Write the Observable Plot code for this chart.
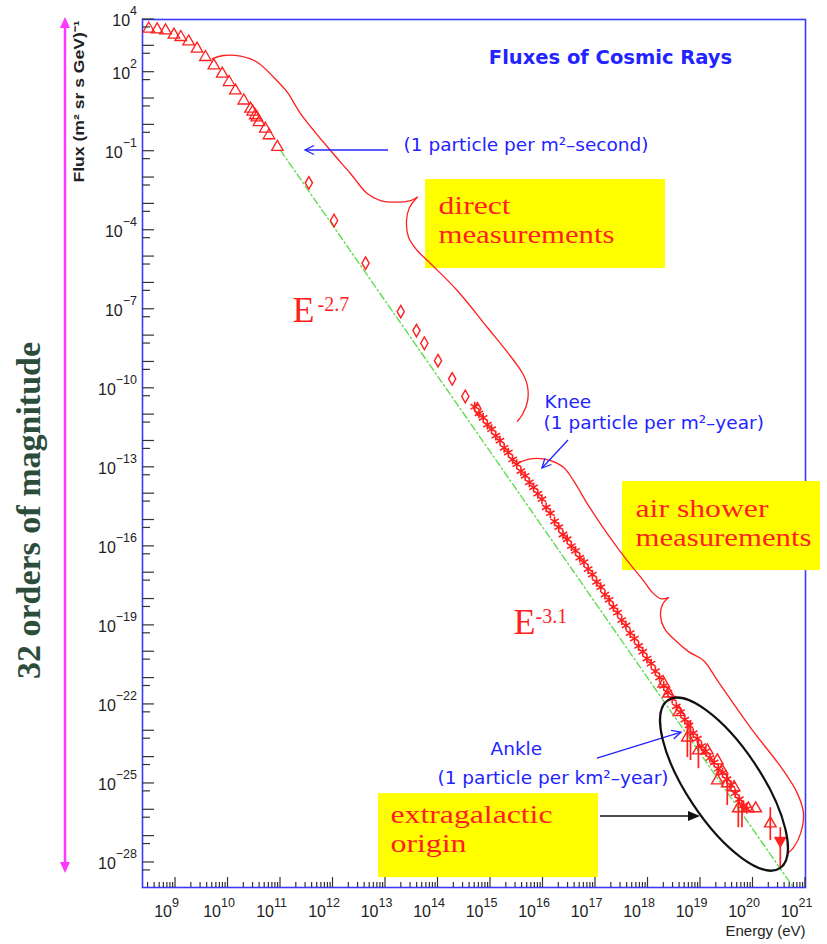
<!DOCTYPE html>
<html><head><meta charset="utf-8">
<script src="https://cdn.jsdelivr.net/npm/d3@7"></script>
<script src="https://cdn.jsdelivr.net/npm/@observablehq/plot@0.6"></script>
<style>html,body{margin:0;padding:0;background:#fff;} #chart svg{display:block;}</style>
</head><body><div id="chart"></div>
<script>
const p = (v) => 10 ** v;

// ---------- data: log10 energy (eV) and log10 flux ----------
const directLogE = [8.49, 8.65, 8.81, 8.97, 9.10, 9.25, 9.41, 9.57, 9.73, 9.89, 10.02, 10.14, 10.30, 10.43, 10.47, 10.52, 10.55, 10.59, 10.71, 10.78, 10.94];
const directLogF = [3.65, 3.62, 3.58, 3.42, 3.33, 3.16, 2.89, 2.57, 2.25, 1.94, 1.62, 1.30, 0.92, 0.61, 0.50, 0.36, 0.28, 0.10, -0.15, -0.40, -0.84];

const balloonLogE = [11.54, 12.02, 12.62, 13.29, 13.59, 13.74, 14.00, 14.27, 14.52, 14.75];
const balloonLogF = [-2.20, -3.63, -5.25, -7.09, -7.81, -8.29, -8.95, -9.64, -10.31, -10.78];

const showerLogE = [14.70, 14.78, 14.86, 14.94, 15.02, 15.10, 15.18, 15.26, 15.34, 15.42,
  15.50, 15.58, 15.66, 15.74, 15.82, 15.90, 15.98, 16.06, 16.14, 16.22,
  16.30, 16.38, 16.46, 16.54, 16.62, 16.70, 16.78, 16.86, 16.94, 17.02,
  17.10, 17.18, 17.26, 17.34, 17.42, 17.50, 17.58, 17.66, 17.74, 17.82,
  17.90, 17.98, 18.06, 18.14, 18.22, 18.30, 18.38, 18.46, 18.54, 18.62,
  18.70, 18.78, 18.86, 18.94, 19.02, 19.10, 19.18, 19.26, 19.34, 19.42,
  19.50, 19.58, 19.66, 19.74, 19.82, 19.88];
const showerLogF = [-10.70, -10.95, -11.12, -11.38, -11.55, -11.80, -11.99, -12.26, -12.44, -12.70,
  -12.88, -13.14, -13.32, -13.57, -13.76, -14.00, -14.21, -14.52, -14.74, -15.05,
  -15.27, -15.55, -15.73, -15.99, -16.17, -16.43, -16.60, -16.86, -17.07, -17.35,
  -17.55, -17.83, -18.03, -18.30, -18.52, -18.80, -19.00, -19.29, -19.50, -19.78,
  -20.00, -20.26, -20.45, -20.74, -20.98, -21.30, -21.55, -21.78, -22.07, -22.29,
  -22.58, -22.80, -23.09, -23.30, -23.58, -23.78, -24.03, -24.20, -24.44, -24.60,
  -24.84, -25.06, -25.37, -25.60, -25.83, -25.97];

const tailLogE = [18.30, 18.39, 18.59, 18.75, 18.96, 19.13, 19.32, 19.32, 19.41, 19.51, 19.64, 19.72, 19.91, 20.05, 20.33];
const tailLogF = [-21.21, -21.59, -22.30, -23.26, -23.75, -23.75, -24.13, -24.89, -24.51, -25.00, -25.15, -25.95, -25.95, -25.95, -26.52];

const errLogE  = [18.75, 18.81, 18.96, 19.51, 19.72, 19.79, 20.33, 20.52];
const errLogLo = [-24.02, -24.13, -24.44, -25.84, -26.68, -26.68, -27.17, -28.20];
const errLogHi = [-22.61, -22.61, -23.37, -24.63, -25.54, -25.65, -25.92, -26.68];

const limitLogE = [20.52];
const limitLogF = [-27.17];

// E^-2.7 reference line (end points)
const refLogE = [11.0, 20.77];
const refLogF = [-0.97, -28.95];

// ---------- axes ----------
const xTickExps = d3.range(9, 22);
const xMinorMult = [2, 3, 4, 5, 6, 7, 8, 9];
const yTickExps = d3.range(-29, 5);
const yLabelExps = [4, 2, -1, -4, -7, -10, -13, -16, -19, -22, -25, -28];

// ---------- annotations (log10 E, log10 F) ----------
const title = {text: "Fluxes of Cosmic Rays", at: [17.286, 2.557]};
const blueNotes = [
  {text: "(1 particle per m\u00b2\u2013second)", at: [13.343, -0.784]},
  {text: "Knee", at: [16.029, -10.541]},
  {text: "(1 particle per m\u00b2\u2013year)", at: [16.010, -11.338]},
  {text: "Ankle", at: [15.0, -23.677]},
  {text: "(1 particle per km\u00b2\u2013year)", at: [13.990, -24.815]}
];
const boxes = [
  {x: [13.762, 18.333], y: [-5.453, -2.074]},
  {x: [17.514, 21.286], y: [-16.919, -13.540]},
  {x: [12.867, 17.057], y: [-28.574, -25.385]}
];
const boxLines = [
  {text: "direct", at: [14.010, -3.384], span: 72},
  {text: "measurements", at: [14.010, -4.485], span: 176},
  {text: "air shower", at: [17.762, -14.888], span: 133},
  {text: "measurements", at: [17.762, -15.989], span: 176},
  {text: "extragalactic", at: [13.095, -26.486], span: 162},
  {text: "origin", at: [13.095, -27.587], span: 76}
];
const slopeBase = [{text: "E", at: [11.229, -7.466]}, {text: "E", at: [15.438, -19.311]}];
const slopeExp = [{text: "-2.7", at: [11.705, -7.048]}, {text: "-3.1", at: [15.857, -18.893]}];
const yTitle = {text: "Flux (m\u00b2 sr s GeV)\u207b\u00b9", span: 162};

const blueArrows = [
  {from: [13.057, -0.973], to: [11.476, -0.973]},
  {from: [16.486, -11.983], to: [15.990, -13.046]},
  {from: [17.038, -24.056], to: [18.638, -23.069]}
];
const blackArrows = [{from: [17.095, -26.258], to: [19.0, -26.258]}];
const rangeArrow = {top: 4.08, bottom: -28.42};
const ellipseAxis = [[18.390, -21.854], [20.524, -28.233]];

const braces = [
  {id: "1a", pts: [[9.699,2.508],[9.914,2.633],[10.238,2.607],[10.556,2.379],[10.867,1.810],[11.128,1.240],[11.381,0.431],[11.952,-0.973],[12.333,-1.846],[12.651,-2.605],[12.905,-2.872],[13.223,-2.936],[13.476,-2.872],[13.604,-2.746]]},
  {id: "1b", pts: [[13.604,-2.746],[13.457,-3.137],[13.400,-3.631],[13.438,-4.265],[13.604,-4.770],[13.857,-5.264],[14.366,-6.289],[14.937,-7.682],[15.381,-8.783],[15.610,-9.429],[15.705,-9.923],[15.705,-10.492],[15.610,-10.986],[15.514,-11.252]]},
  {id: "2a", pts: [[15.533,-12.807],[15.819,-12.667],[16.143,-12.743],[16.390,-12.997],[16.581,-13.502],[16.842,-14.375],[17.223,-15.514],[17.604,-16.539],[17.914,-17.298],[18.086,-17.755],[18.238,-17.983],[18.390,-17.945]]},
  {id: "2b", pts: [[18.390,-17.945],[18.276,-18.211],[18.238,-18.628],[18.314,-19.122],[18.524,-19.577],[18.771,-19.995],[19.057,-20.336],[19.324,-21.096],[19.952,-22.880],[20.581,-24.513],[20.848,-25.386],[20.962,-26.145],[20.905,-26.904],[20.771,-27.436],[20.676,-27.626]]}
];

// ---------- styles ----------
const RED = "#ff1f1f", BLUE = "#2323ff", GREEN = "#5fdc4f", MAGENTA = "#ff38ff", FRAME = "#3a3aff", INK = "#222";

const pts = (le, lf) => le.map((v, i) => ({E: p(v), F: p(lf[i])}));
const direct = pts(directLogE, directLogF);
const balloon = pts(balloonLogE, balloonLogF);
const shower = pts(showerLogE, showerLogF);
const tail = pts(tailLogE, tailLogF);
const limit = pts(limitLogE, limitLogF);
const ref = pts(refLogE, refLogF);
const errs = errLogE.map((v, i) => ({E: p(v), lo: p(errLogLo[i]), hi: p(errLogHi[i])}));
const braceData = braces.flatMap(b => b.pts.map(([e, f]) => ({id: b.id, E: p(e), F: p(f)})));
const at = (d) => ({x: p(d.at[0]), y: p(d.at[1])});

const triangleDown = {draw(ctx, size) {
  const y = Math.sqrt(size / (Math.sqrt(3) * 3));
  ctx.moveTo(0, y * 2); ctx.lineTo(-Math.sqrt(3) * y, -y); ctx.lineTo(Math.sqrt(3) * y, -y); ctx.closePath();
}};

const custom = (draw) => (index, scales, values, dims) => {
  const g = d3.create("svg:g");
  draw(g, scales, dims);
  return g.node();
};

const arrowMark = (list, {stroke, strokeWidth, head, half, filled}) => custom((g, {x, y}) => {
  for (const d of list) {
    const x1 = x(p(d.from[0])), y1 = y(p(d.from[1])), x2 = x(p(d.to[0])), y2 = y(p(d.to[1]));
    const a = Math.atan2(y2 - y1, x2 - x1), ux = Math.cos(a), uy = Math.sin(a);
    const bx = x2 - ux * head, by = y2 - uy * head;
    const L = [bx - uy * half, by + ux * half], R = [bx + uy * half, by - ux * half];
    g.append("line").attr("x1", x1).attr("y1", y1).attr("x2", filled ? bx : x2).attr("y2", filled ? by : y2)
      .attr("stroke", stroke).attr("stroke-width", strokeWidth);
    if (filled) g.append("path").attr("d", `M${x2},${y2}L${L}L${R}Z`).attr("fill", stroke);
    else g.append("path").attr("d", `M${L}L${x2},${y2}L${R}`).attr("fill", "none").attr("stroke", stroke).attr("stroke-width", strokeWidth);
  }
});

const rangeArrowMark = custom((g, {y}, {marginLeft}) => {
  const x = marginLeft - 77, head = 11, half = 5;
  const yt = y(p(rangeArrow.top)), yb = y(p(rangeArrow.bottom));
  g.append("line").attr("x1", x).attr("x2", x).attr("y1", yt + head).attr("y2", yb - head).attr("stroke", MAGENTA).attr("stroke-width", 2.5);
  g.append("path").attr("d", `M${x},${yt}L${x - half},${yt + head}L${x + half},${yt + head}Z`).attr("fill", MAGENTA);
  g.append("path").attr("d", `M${x},${yb}L${x - half},${yb - head}L${x + half},${yb - head}Z`).attr("fill", MAGENTA);
});

const ellipseMark = custom((g, {x, y}) => {
  const [a, b] = ellipseAxis;
  const xa = x(p(a[0])), ya = y(p(a[1])), xb = x(p(b[0])), yb = y(p(b[1]));
  const cx = (xa + xb) / 2, cy = (ya + yb) / 2;
  const rx = Math.hypot(xb - xa, yb - ya) / 2;
  const ang = Math.atan2(yb - ya, xb - xa) * 180 / Math.PI;
  g.append("ellipse").attr("cx", cx).attr("cy", cy).attr("rx", rx).attr("ry", 37)
    .attr("transform", `rotate(${ang},${cx},${cy})`)
    .attr("fill", "none").attr("stroke", "#111").attr("stroke-width", 2.2);
});

const expText = (k) => (k < 0 ? "\u2212" + (-k) : String(k));

const axesMark = custom((g, {x, y}, {width, height, marginLeft, marginRight, marginTop, marginBottom}) => {
  const x0 = marginLeft, x1 = width - marginRight, y0 = marginTop, yb = height - marginBottom;
  const tick = (xa, ya, xb, yb2) => g.append("line").attr("x1", xa).attr("y1", ya).attr("x2", xb).attr("y2", yb2).attr("stroke", "#333").attr("stroke-width", 1.2);
  for (let k = 8; k <= 20; ++k) for (const m of xMinorMult) {
    const px = x(m * p(k));
    if (px <= x0 + 1 || px >= x1 - 1) continue;
    tick(px, yb, px, yb - 5);
  }
  for (const k of xTickExps) { const px = x(p(k)); tick(px, yb, px, yb - 10); }
  for (const k of yTickExps) {
    const py = y(p(k)), ps = y(0.5 * p(k));
    if (py >= y0 - 0.5 && py <= yb) tick(x0, py, x0 + 12, py);
    if (ps >= y0 && ps <= yb - 1) tick(x0, ps, x0 + 8, ps);
  }
  const font = "'Liberation Sans', Arial, sans-serif";
  for (const k of xTickExps) {
    const t = g.append("text").attr("x", x(p(k)) - 8.5).attr("y", yb + 30)
      .attr("font-family", font).attr("font-size", 16).attr("fill", INK);
    t.append("tspan").text("10");
    t.append("tspan").attr("dy", -10).attr("font-size", 12.5).text(expText(k));
  }
  for (const k of yLabelExps) {
    const t = g.append("text").attr("x", x0 - 5).attr("y", y(p(k)) + 7).attr("text-anchor", "end")
      .attr("font-family", font).attr("font-size", 16).attr("fill", INK);
    t.append("tspan").text("10");
    t.append("tspan").attr("dy", -11).attr("font-size", 12.5).text(expText(k));
  }
});

const sans = "'DejaVu Sans', sans-serif";
const serif = "'Liberation Serif', 'Times New Roman', serif";
const helv = "'Liberation Sans', Arial, sans-serif";

const chart = Plot.plot({
  width: 827, height: 944,
  marginLeft: 142, marginRight: 22, marginTop: 19, marginBottom: 57,
  x: {type: "log", domain: [p(8.371), p(21)], axis: null},
  y: {type: "log", domain: [p(-28.95), p(4)], axis: null},
  style: {background: "white", overflow: "visible"},
  marks: [
    Plot.frame({stroke: FRAME, strokeWidth: 1.6}),
    Plot.line(ref, {x: "E", y: "F", stroke: GREEN, strokeWidth: 1.4, strokeDasharray: "7,3,1.5,3"}),
    Plot.dot(direct, {x: "E", y: "F", symbol: "triangle", r: 4.3, fill: "none", stroke: RED, strokeWidth: 1.3}),
    Plot.dot(balloon, {x: "E", y: "F", symbol: "diamond", r: 3.8, fill: "none", stroke: RED, strokeWidth: 1.4}),
    Plot.dot(shower, {x: "E", y: "F", symbol: "asterisk", r: 4.6, stroke: RED, strokeWidth: 1.6}),
    Plot.ruleX(errs, {x: "E", y1: "lo", y2: "hi", stroke: RED, strokeWidth: 1.7}),
    Plot.dot(tail, {x: "E", y: "F", symbol: "triangle", r: 4.3, fill: "none", stroke: RED, strokeWidth: 1.4}),
    Plot.dot(limit, {x: "E", y: "F", symbol: triangleDown, r: 4.3, fill: RED, stroke: RED, strokeWidth: 1}),
    Plot.rect(boxes, {x1: d => p(d.x[0]), x2: d => p(d.x[1]), y1: d => p(d.y[0]), y2: d => p(d.y[1]), fill: "#ffff00"}),
    Plot.line(braceData, {x: "E", y: "F", z: "id", curve: "catmull-rom", stroke: RED, strokeWidth: 1.3}),
    arrowMark(blueArrows, {stroke: BLUE, strokeWidth: 1.3, head: 9, half: 4.5, filled: false}),
    arrowMark(blackArrows, {stroke: "#111", strokeWidth: 1.5, head: 12, half: 5, filled: true}),
    rangeArrowMark,
    ellipseMark,
    Plot.text([title], {...at(title), text: "text", fill: BLUE, fontFamily: sans, fontWeight: "bold", fontSize: 19.5, textAnchor: "middle", lineAnchor: "middle"}),
    Plot.text(blueNotes, {x: d => p(d.at[0]), y: d => p(d.at[1]), text: "text", fill: BLUE, fontFamily: sans, fontSize: 18.5, textAnchor: "start", lineAnchor: "middle"}),
    Plot.text(boxLines, {x: d => p(d.at[0]), y: d => p(d.at[1]), text: "text", fill: RED, fontFamily: serif, fontSize: 26, textAnchor: "start", lineAnchor: "bottom"}),
    Plot.text(slopeBase, {x: d => p(d.at[0]), y: d => p(d.at[1]), text: "text", fill: RED, fontFamily: serif, fontSize: 36, textAnchor: "start", lineAnchor: "bottom"}),
    Plot.text(slopeExp, {x: d => p(d.at[0]), y: d => p(d.at[1]), text: "text", fill: RED, fontFamily: serif, fontSize: 20, textAnchor: "start", lineAnchor: "bottom"}),
    axesMark,
    Plot.text([yTitle], {text: "text", frameAnchor: "top-left", dx: -63, dy: 1, rotate: -90, textAnchor: "end", lineAnchor: "middle", fill: INK, fontFamily: helv, fontWeight: "bold", fontSize: 15}),
    Plot.text(["Energy (eV)"], {text: d => d, frameAnchor: "bottom-right", dy: 44, textAnchor: "end", lineAnchor: "middle", fill: INK, fontFamily: helv, fontSize: 15}),
    Plot.text(["32 orders of magnitude"], {text: d => d, frameAnchor: "left", dx: -113, dy: 57, rotate: -90, textAnchor: "middle", lineAnchor: "middle", fill: "#2d4d3c", fontFamily: serif, fontWeight: "bold", fontSize: 34})
  ]
});

// stretch the slide captions and the axis title to their drawn lengths
const spanByText = new Map([...boxLines, yTitle].map(d => [d.text, d.span]));
d3.select(chart).selectAll("text").each(function () {
  if (this.childElementCount) return;
  const s = spanByText.get(this.textContent);
  if (s) {
    this.setAttribute("textLength", s);
    this.setAttribute("lengthAdjust", "spacingAndGlyphs");
  }
});
document.getElementById("chart").append(chart);
</script></body></html>
